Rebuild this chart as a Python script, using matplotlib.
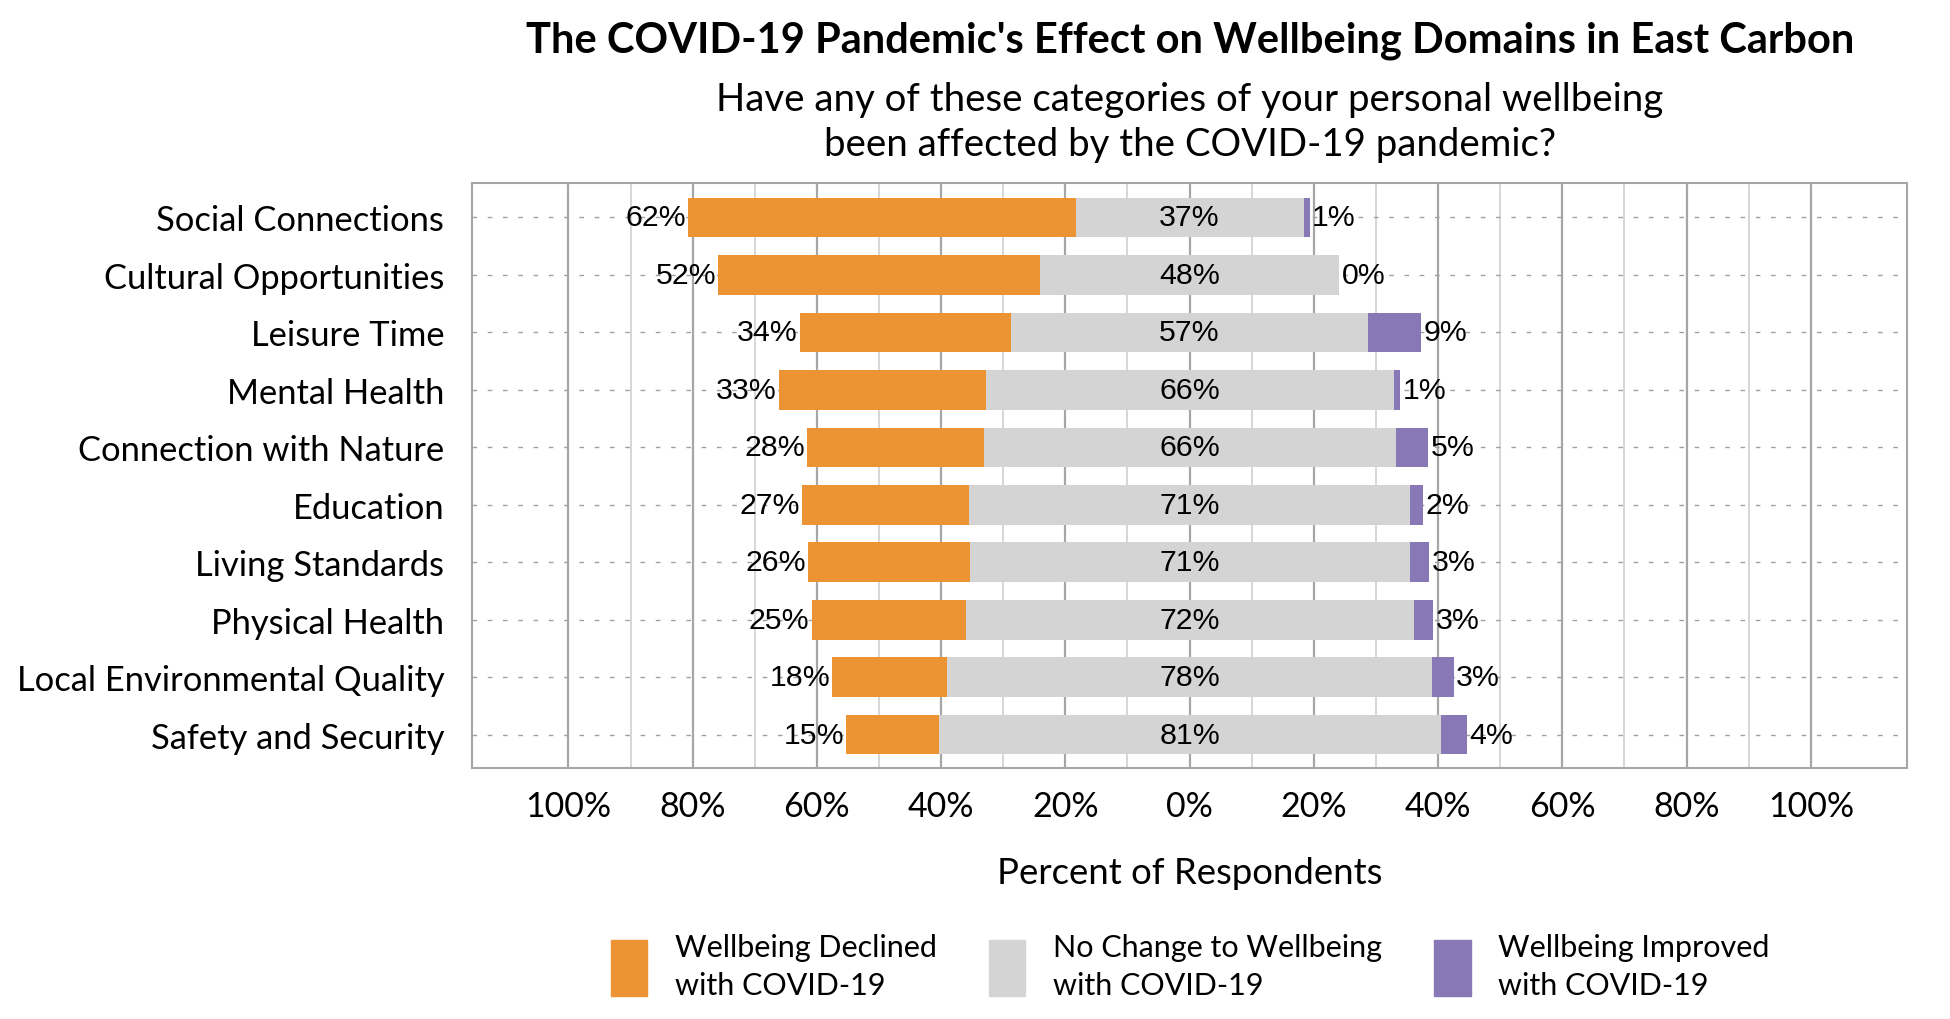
import matplotlib
matplotlib.use("Agg")
import matplotlib.pyplot as plt
from matplotlib.patches import Patch
from matplotlib.ticker import FixedLocator, FuncFormatter

# ----------------------------------------------------------------------
# Data (percent of respondents)
# ----------------------------------------------------------------------
categories = [
    "Social Connections",
    "Cultural Opportunities",
    "Leisure Time",
    "Mental Health",
    "Connection with Nature",
    "Education",
    "Living Standards",
    "Physical Health",
    "Local Environmental Quality",
    "Safety and Security",
]
declined = [62.4, 51.8, 34.0, 33.3, 28.4, 26.8, 26.0, 24.8, 18.4, 14.9]
no_change = [36.7, 48.2, 57.4, 65.7, 66.3, 71.1, 70.8, 72.1, 78.2, 80.8]
improved = [1.0, 0.0, 8.6, 1.1, 5.3, 2.1, 3.2, 3.2, 3.4, 4.3]

series_names = [
    "Wellbeing Declined\nwith COVID-19",
    "No Change to Wellbeing\nwith COVID-19",
    "Wellbeing Improved\nwith COVID-19",
]

title = "The COVID-19 Pandemic's Effect on Wellbeing Domains in East Carbon"
subtitle = ("Have any of these categories of your personal wellbeing\n"
            "been affected by the COVID-19 pandemic?")
xlabel = "Percent of Respondents"

# colours
C_DECL = "#EC9333"
C_SAME = "#D4D4D4"
C_IMPR = "#8878B5"
C_GRID_MAJ = "#A6A6A6"
C_GRID_MIN = "#D0D0D0"

plt.rcParams["font.family"] = ["Lato", "DejaVu Sans"]
LABEL_FONT = ["Liberation Sans", "DejaVu Sans"]
LABEL_SIZE = 21.8

fig = plt.figure(figsize=(19.5, 10.2), dpi=100)
ax = fig.add_axes([0.2421, 0.2461, 0.7359, 0.5735])

y = list(range(len(categories)))
half = [v / 2 for v in no_change]
left_decl = [-h - d for h, d in zip(half, declined)]
left_same = [-h for h in half]

# diverging bars: "no change" is centred on 0
h = 0.69
ax.barh(y, declined, left=left_decl, height=h, color=C_DECL, zorder=2)
ax.barh(y, no_change, left=left_same, height=h, color=C_SAME, zorder=2)
ax.barh(y, improved, left=half, height=h, color=C_IMPR, zorder=2)

# data labels
for i in y:
    ax.annotate(f"{declined[i]:.0f}%", (left_decl[i], i), xytext=(-1.5, 0),
                textcoords="offset points", ha="right", va="center",
                fontsize=LABEL_SIZE, family=LABEL_FONT, zorder=3)
    ax.annotate(f"{no_change[i]:.0f}%", (0, i), ha="center", va="center",
                fontsize=LABEL_SIZE, family=LABEL_FONT, zorder=3)
    ax.annotate(f"{improved[i]:.0f}%", (half[i] + improved[i], i), xytext=(1.5, 0),
                textcoords="offset points", ha="left", va="center",
                fontsize=LABEL_SIZE, family=LABEL_FONT, zorder=3)

# axes
ax.set_xlim(-115.5, 115.5)
ax.set_ylim(len(categories) - 0.42, -0.6)
ax.set_yticks(y)
ax.set_yticklabels(categories)
ax.xaxis.set_major_locator(FixedLocator(range(-100, 101, 20)))
ax.xaxis.set_minor_locator(FixedLocator(range(-90, 100, 20)))
ax.xaxis.set_major_formatter(FuncFormatter(lambda v, p: f"{abs(v):.0f}%"))
ax.tick_params(axis="both", which="both", length=0)
ax.tick_params(axis="y", labelsize=24.8, pad=20)
ax.tick_params(axis="x", labelsize=24.5, pad=16)

ax.set_axisbelow(True)
ax.grid(axis="x", which="major", color=C_GRID_MAJ, lw=1.6)
ax.grid(axis="x", which="minor", color=C_GRID_MIN, lw=1.2)
ax.grid(axis="y", which="major", color="#A0A0A0", lw=1.0, ls=(0, (3.3, 7.7)))

for s in ax.spines.values():
    s.set_color(C_GRID_MAJ)
    s.set_linewidth(1.5)

ax.set_xlabel(xlabel, fontsize=26.3)
ax.xaxis.set_label_coords(0.5, -0.178)
ax.xaxis.label.set_va("center")

fig.text(0.6103, 0.9600, title, ha="center", va="center",
         fontsize=30, fontweight="bold")
fig.text(0.6103, 0.880, subtitle, ha="center", va="center",
         fontsize=27.6, linespacing=1.3)

handles = [Patch(color=c) for c in (C_DECL, C_SAME, C_IMPR)]
leg = fig.legend(handles, series_names, loc="center", bbox_to_anchor=(0.6103, 0.052),
                 ncol=3, frameon=False, fontsize=22, handlelength=1.2,
                 handleheight=2.4, handletextpad=0.9, columnspacing=1.7,
                 labelspacing=0.3)
for t in leg.get_texts():
    t.set_linespacing(1.45)

fig.savefig("out.png", dpi=100)
